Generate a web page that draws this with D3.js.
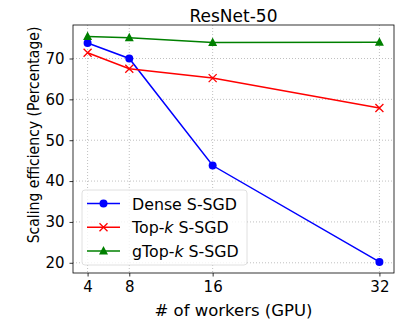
<!DOCTYPE html>
<html>
<head>
<meta charset="utf-8">
<script src="https://cdn.jsdelivr.net/npm/d3@7"></script>
<style>
  body { margin: 0; background: #fff; }
  text { font-family: "DejaVu Sans", sans-serif; fill: #000; }
</style>
</head>
<body>
<script>
'use strict';

const workers = [4, 8, 16, 32];
const denseSgd = [73.8, 70.0, 43.8, 20.2];
const topkSgd = [71.4, 67.5, 65.2, 57.9];
const gtopkSgd = [75.4, 75.1, 73.9, 74.0];
const yTicks = [20, 30, 40, 50, 60, 70];

const width = 407, height = 326;
const margin = { top: 25, right: 13, bottom: 53, left: 73 };

const x = d3.scaleLinear().domain([2.6, 33.4]).range([margin.left, width - margin.right]);
const y = d3.scaleLinear().domain([17.5, 78.2]).range([height - margin.bottom, margin.top]);

const series = [
  { name: 'Dense S-SGD', values: denseSgd, color: '#0000ff', marker: 'circle' },
  { name: 'Top-', k: true, values: topkSgd, color: '#ff0000', marker: 'x' },
  { name: 'gTop-', k: true, values: gtopkSgd, color: '#008000', marker: 'triangle' },
];

const svg = d3.select('body').append('svg')
  .attr('width', width).attr('height', height);

// grid
const grid = svg.append('g').attr('stroke', '#b0b0b0').attr('stroke-width', 0.8)
  .attr('stroke-dasharray', '1,2');
grid.selectAll('.gx').data(workers).enter().append('line')
  .attr('x1', (d) => x(d)).attr('x2', (d) => x(d))
  .attr('y1', margin.top).attr('y2', height - margin.bottom);
grid.selectAll('.gy').data(yTicks).enter().append('line')
  .attr('x1', margin.left).attr('x2', width - margin.right)
  .attr('y1', (d) => y(d)).attr('y2', (d) => y(d));

// axes
svg.append('g')
  .attr('transform', `translate(0,${height - margin.bottom})`)
  .call(d3.axisBottom(x).tickValues(workers).tickSize(3.5).tickPadding(5))
  .call((g) => g.selectAll('text').style('font-size', '15px'));
svg.append('g')
  .attr('transform', `translate(${margin.left},0)`)
  .call(d3.axisLeft(y).tickValues(yTicks).tickSize(3.5).tickPadding(5))
  .call((g) => g.selectAll('text').style('font-size', '15px'));
svg.selectAll('.domain').remove();
svg.selectAll('.tick line').attr('stroke', '#000').attr('stroke-width', 0.8);

svg.append('rect')
  .attr('x', margin.left).attr('y', margin.top)
  .attr('width', width - margin.left - margin.right)
  .attr('height', height - margin.top - margin.bottom)
  .attr('fill', 'none').attr('stroke', '#000').attr('stroke-width', 0.8);

function drawMarker(g, type, color) {
  if (type === 'circle') {
    g.append('circle').attr('r', 4).attr('fill', color);
  } else if (type === 'x') {
    g.append('path').attr('d', 'M-4,-4L4,4M-4,4L4,-4')
      .attr('stroke', color).attr('stroke-width', 1.3).attr('fill', 'none');
  } else {
    g.append('path').attr('d', 'M0,-5L4.5,3.5L-4.5,3.5Z').attr('fill', color);
  }
}

const line = d3.line().x((d, i) => x(workers[i])).y((d) => y(d));

for (const s of series) {
  svg.append('path').datum(s.values)
    .attr('d', line).attr('fill', 'none')
    .attr('stroke', s.color).attr('stroke-width', 1.5);
  s.values.forEach((v, i) => {
    const g = svg.append('g').attr('transform', `translate(${x(workers[i])},${y(v)})`);
    drawMarker(g, s.marker, s.color);
  });
}

// title and labels
svg.append('text').attr('x', (margin.left + width - margin.right) / 2).attr('y', 21.5)
  .attr('text-anchor', 'middle').style('font-size', '17px').text('ResNet-50');
svg.append('text').attr('x', (margin.left + width - margin.right) / 2).attr('y', 316)
  .attr('text-anchor', 'middle').style('font-size', '16.5px').text('# of workers (GPU)');
// the y label in the picture is squeezed along its length
svg.append('text')
  .attr('transform', 'translate(38.5,135) rotate(-90) scale(0.877,1)')
  .attr('text-anchor', 'middle').style('font-size', '16px').text('Scaling efficiency (Percentage)');

// legend
const legend = svg.append('g');
legend.append('rect')
  .attr('x', 82).attr('y', 190).attr('width', 165).attr('height', 75).attr('rx', 3)
  .attr('fill', 'rgba(255,255,255,0.8)').attr('stroke', '#d8d8d8').attr('stroke-width', 0.8);
series.forEach((s, i) => {
  const ly = 203.5 + i * 23.7;
  legend.append('line').attr('x1', 87).attr('x2', 120).attr('y1', ly).attr('y2', ly)
    .attr('stroke', s.color).attr('stroke-width', 1.5);
  drawMarker(legend.append('g').attr('transform', `translate(103.5,${ly})`), s.marker, s.color);
  const t = legend.append('text').attr('x', 132).attr('y', ly + 6).style('font-size', '15.8px');
  if (s.k) {
    t.append('tspan').text(s.name);
    t.append('tspan').style('font-style', 'italic').text('k');
    t.append('tspan').text(' S-SGD');
  } else {
    t.text(s.name);
  }
});
</script>
</body>
</html>
